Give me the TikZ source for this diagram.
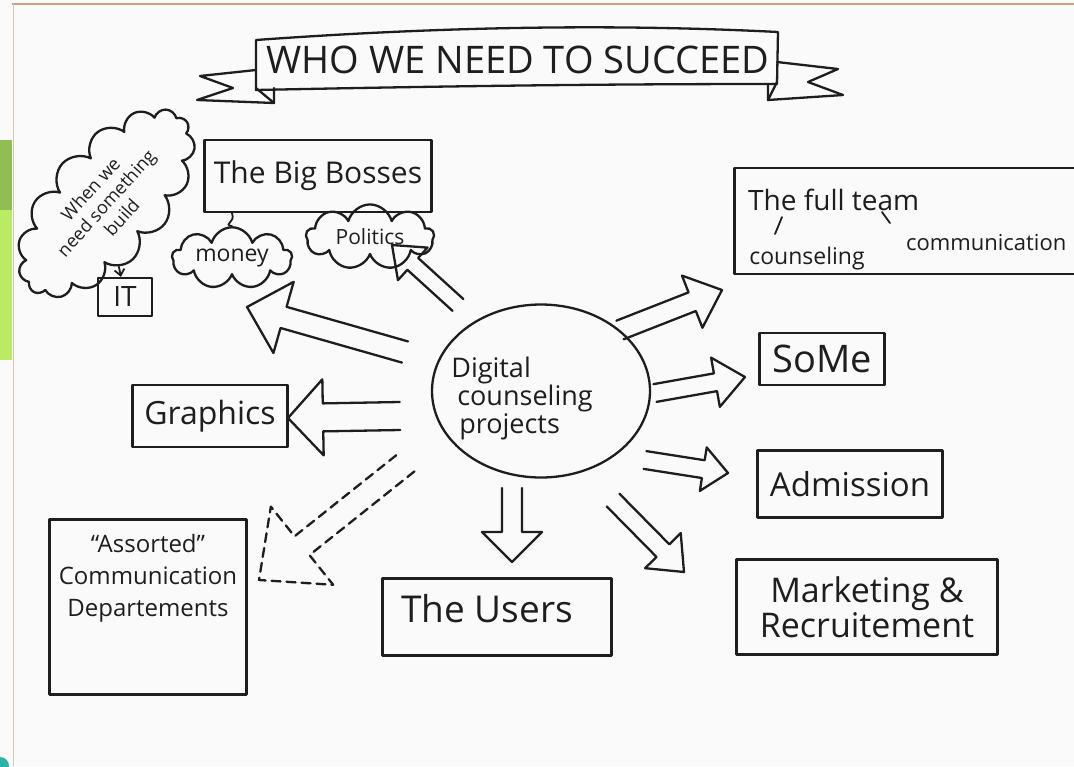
\documentclass[tikz,border=0pt]{standalone}
\usepackage{fontspec}
\setmainfont{Open Sans}
\usetikzlibrary{shapes.symbols,shapes.geometric,calc,arrows.meta}
\definecolor{ink}{HTML}{1E1E1E}
\definecolor{paper}{HTML}{FAFAFA}
\definecolor{greenA}{HTML}{8FBF52}
\definecolor{greenB}{HTML}{B8EC64}
\definecolor{edgec}{HTML}{C9A37A}
\definecolor{tealc}{HTML}{2BB3A8}
\newcommand\hollowarrow[6][]{%
  \draw[inkline,#1] let \p1=($(#3)-(#2)$), \n1={atan2(\y1,\x1)}, \n2={veclen(\x1,\y1)-#6} in
    ($(#2)+(\n1+90:#4)$) -- ($(#2)+(\n1:\n2)+(\n1+90:#4)$) -- ($(#2)+(\n1:\n2)+(\n1+90:#5)$) -- (#3)
    -- ($(#2)+(\n1:\n2)+(\n1-90:#5)$) -- ($(#2)+(\n1:\n2)+(\n1-90:#4)$) -- ($(#2)+(\n1-90:#4)$);}
\begin{document}
\begin{tikzpicture}[x=1pt,y=-1pt,
  inkline/.style={draw=ink,line width=2.3pt,line join=round,line cap=round},
  box/.style={inkline,rectangle,inner sep=0pt,align=center,text=ink},
  lbl/.style={text=ink,inner sep=0pt,align=center},
  puff/.style={inkline,cloud,cloud puffs=9,cloud ignores aspect,inner sep=3pt,text=ink,align=center},
  thinink/.style={inkline,line width=1.8pt},
  dashedarrow/.style={dash pattern=on 9pt off 6pt},
]
\useasboundingbox (0,0) rectangle (1074,766);
\fill[paper] (0,0) rectangle (1074,766);
\fill[greenA] (0,140) rectangle (12,210);
\fill[greenB] (0,210) rectangle (12,360);
\draw[edgec,line width=1.5pt] (12,4) -- (1074,4);
\draw[edgec!60,line width=1pt] (13,4) -- (13,766);
\fill[tealc] (0,766) circle (9);

% title banner
\node[lbl,font=\fontsize{38}{42}\selectfont] (title) at (518,60) {WHO WE NEED TO SUCCEED};
\draw[inkline] (256,40) .. controls (450,26) and (620,24) .. (778,32) -- (777,84) .. controls (600,84) and (450,86) .. (256,90) -- cycle;
\draw[inkline] (256,70) -- (200,76) -- (233,88) -- (197,100) -- (274,103) -- (274,88);
\draw[inkline] (256,88) -- (274,103);
\draw[inkline] (777,62) -- (838,69) -- (808,82) -- (843,95) -- (768,100) -- (768,84);
\draw[inkline] (777,82) -- (768,100);

% boxes
\node[box,minimum width=227,minimum height=72,font=\fontsize{30}{34}\selectfont] (bosses) at (318,176) {The Big Bosses};
\node[puff,minimum width=120,minimum height=50,font=\fontsize{23}{26}\selectfont] (money) at (232,258) {money};
\node[puff,inner ysep=6pt,minimum width=128,minimum height=52,font=\fontsize{21}{24}\selectfont] (politics) at (370,237) {Politics};
\node[puff,cloud puffs=15,minimum width=230,minimum height=108,rotate=48,font=\fontsize{18}{21}\selectfont] (need) at (106,203) {When we\\need something\\build};
\node[box,minimum width=54,minimum height=38,font=\fontsize{28}{30}\selectfont] (it) at (125,297) {IT};

\node[box,minimum width=345,minimum height=106] (team) at (907,221) {};
\node[lbl,font=\fontsize{28}{30}\selectfont,anchor=west] (full) at (748,200) {The full team};
\node[lbl,font=\fontsize{23}{26}\selectfont] (couns) at (807,259) {counseling};
\node[lbl,font=\fontsize{22}{26}\selectfont,anchor=west] (comm) at (906,243) {communication};

\node[box,minimum width=125,minimum height=52,font=\fontsize{38}{40}\selectfont] (some) at (822,359) {SoMe};
\node[box,minimum width=185,minimum height=67,font=\fontsize{33}{36}\selectfont] (adm) at (850,484) {Admission};
\node[box,minimum width=261,minimum height=95,font=\fontsize{34}{35}\selectfont] (mkt) at (867,607) {Marketing \&\\Recruitement};
\node[box,minimum width=229,minimum height=77] (users) at (497,617) {};
\node[lbl,font=\fontsize{37}{40}\selectfont] (userstxt) at (487,609) {The Users};
\node[box,minimum width=197,minimum height=175] (assorted) at (148,607) {};
\node[lbl,font=\fontsize{24}{32}\selectfont] (assortedtxt) at (148,578) {“Assorted”\\Communication\\Departements};
\node[box,minimum width=155,minimum height=62,font=\fontsize{32}{34}\selectfont] (graphics) at (210,416) {Graphics};
\node[inkline,ellipse,minimum width=218,minimum height=173,inner sep=0pt] (core) at (541,391) {};
\node[lbl,font=\fontsize{27}{28}\selectfont,align=left] (coretxt) at (522,398) {Digital\\\hspace*{6pt}counseling\\\hspace*{8pt}projects};

% small connectors
\draw[thinink,-{Straight Barb[length=6pt,width=10pt]}] (need) -- (it);
\draw[thinink] (bosses.south -| money.north) .. controls +(4,10) and +(-10,-2) .. (money.north);
\draw[thinink] ($(full.south west)+(34,6)$) -- ++(-7,17);
\draw[thinink] ($(full.south west)+(134,1)$) -- ++(8,11);

% hollow arrows
\coordinate (a1s) at (458,305); \coordinate (a1e) at (392,245);
\coordinate (a2s) at (405,352); \coordinate (a2e) at (247,307);
\coordinate (a3s) at (400,416); \coordinate (a3e) at (288,418);
\coordinate (a4s) at (407,462); \coordinate (a4e) at (259,580);
\coordinate (a5s) at (512,488); \coordinate (a5e) at (512,562);
\coordinate (a6s) at (613,500); \coordinate (a6e) at (684,572);
\coordinate (a7s) at (645,460); \coordinate (a7e) at (728,473);
\coordinate (a8s) at (655,393); \coordinate (a8e) at (745,377);
\coordinate (a9s) at (620,330); \coordinate (a9e) at (722,290);
\hollowarrow{a1s}{a1e}{8pt}{22pt}{28}
\hollowarrow{a2s}{a2e}{11pt}{37pt}{38}
\hollowarrow{a3s}{a3e}{14pt}{38pt}{35}
\hollowarrow[dashedarrow]{a4s}{a4e}{12pt}{50pt}{55}
\hollowarrow{a5s}{a5e}{10pt}{30pt}{30}
\hollowarrow{a6s}{a6e}{9pt}{25pt}{30}
\hollowarrow{a7s}{a7e}{9pt}{22pt}{25}
\hollowarrow{a8s}{a8e}{9pt}{25pt}{30}
\hollowarrow{a9s}{a9e}{10pt}{28pt}{32}
\end{tikzpicture}
\end{document}
